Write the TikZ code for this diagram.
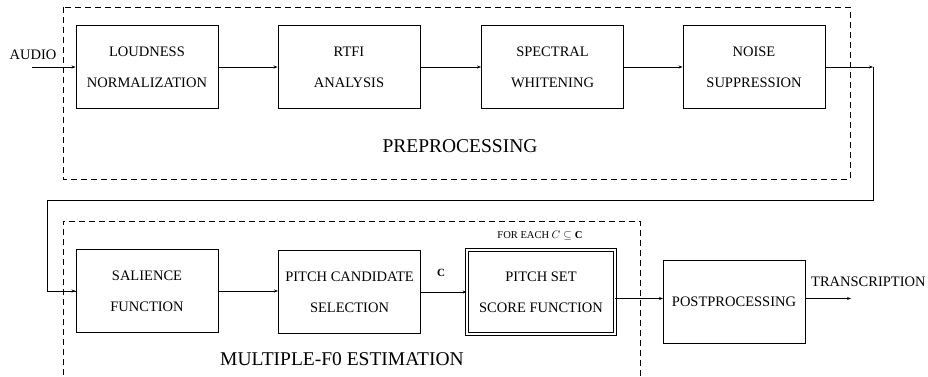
\documentclass[tikz,border=0pt]{standalone}
\usepackage{fontspec}
\setmainfont{Liberation Serif}
\usetikzlibrary{arrows.meta,calc}
\begin{document}
\begin{tikzpicture}[x=1pt,y=-1pt,
  blk/.style={draw,line width=0.9pt,minimum width=142pt,minimum height=83pt,inner sep=0pt,align=center,
    font=\fontsize{14.5}{31}\selectfont},
  dbl/.style={draw,line width=0.8pt,double,double distance=1.6pt,minimum width=148pt,minimum height=84pt,inner sep=0pt,align=center,
    font=\fontsize{14.5}{31}\selectfont},
  grp/.style={draw,dashed,line width=0.9pt,dash pattern=on 6pt off 4pt},
  arr/.style={line width=0.8pt,-{Stealth[length=4pt,width=3pt]}},
  ln/.style={line width=0.9pt},
  lbl/.style={font=\fontsize{14.5}{17}\selectfont,inner sep=0pt},
  big/.style={font=\fontsize{19.5}{22}\selectfont,inner sep=0pt}]
\useasboundingbox (0,0) rectangle (928,377);
% group boxes
\draw[grp] (63,7) rectangle (850,179);
\draw[grp] (63,385) -- (63,221) -- (640,221) -- (640,385);
\node[big] (pre) at (460,146) {PREPROCESSING};
\node[big] (mf) at (342,359) {MULTIPLE-F0 ESTIMATION};
% top row
\node[blk] (loud) at (147,67) {LOUDNESS\\NORMALIZATION};
\node[blk] (rtfi) at (349,67) {RTFI\\ANALYSIS};
\node[blk] (spec) at (552.5,67) {SPECTRAL\\WHITENING};
\node[blk] (noise) at (754,67) {NOISE\\SUPPRESSION};
\node[lbl] (audio) at (33,55) {AUDIO};
\coordinate (ain) at (32,67);
\coordinate (c1) at (873,67);
\coordinate (c2) at (873,200);
\coordinate (c3) at (47,200);
% bottom row
\node[blk] (sal) at (147,291) {SALIENCE\\FUNCTION};
\node[blk] (pcs) at (349.5,292) {PITCH CANDIDATE\\SELECTION};
\node[dbl] (ps) at (541,292) {PITCH SET\\SCORE FUNCTION};
\node[blk] (pp) at (734,301.5) {POSTPROCESSING};
\node[font=\fontsize{10.5}{12}\selectfont,inner sep=0pt] (fe) at (540,236) {FOR EACH $C\subseteq\mathbf{C}$};
\node[inner sep=0pt,font=\fontsize{11}{12}\selectfont] (cl) at (441,273) {$\mathbf{C}$};
\node[lbl,anchor=west] (tr) at (811,282) {TRANSCRIPTION};
\coordinate (pin) at (663,298.5);
\coordinate (tout) at (851,298.5);
% connectors
\draw[arr] (ain) -- (loud.west);
\draw[arr] (loud) -- (rtfi);
\draw[arr] (rtfi) -- (spec);
\draw[arr] (spec) -- (noise);
\draw[arr] (noise.east) -- (c1);
\draw[ln] (c1) -- (c2) -- (c3) |- (sal.west);
\draw[arr] (c3 |- sal.west) -- (sal.west);
\draw[arr] (sal) -- (pcs.west |- sal);
\draw[arr] (pcs) -- (ps);
\draw[arr] (ps.east |- pin) -- (pin);
\draw[arr] (pp.east |- tout) -- (tout);
\end{tikzpicture}
\end{document}
